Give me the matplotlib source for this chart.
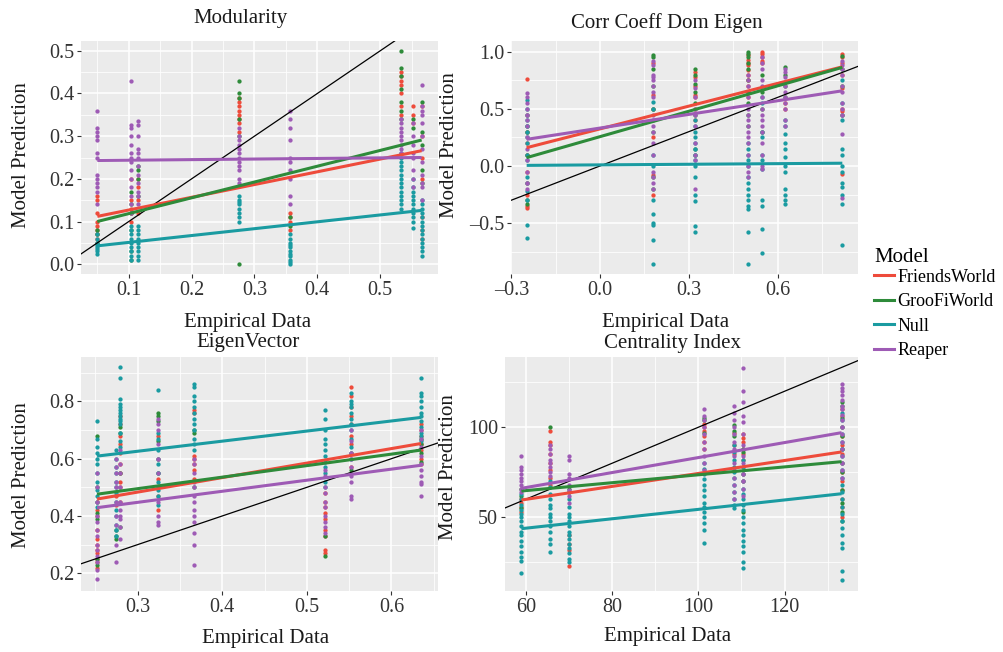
import numpy as np
import matplotlib
matplotlib.use('Agg')
import matplotlib.pyplot as plt
from matplotlib.lines import Line2D

plt.rcParams['font.family'] = ['Liberation Serif', 'DejaVu Serif']

models = ['FriendsWorld', 'GrooFiWorld', 'Null', 'Reaper']
colors = ['#ee4b3b', '#2e8b3a', '#1a9ba1', '#9e5bb5']

# ---------------- Modularity ----------------
mod_x = [0.050, 0.104, 0.114, 0.275, 0.357, 0.533, 0.552, 0.566]
mod_friends = [[0.16, 0.15, 0.12, 0.10, 0.09, 0.08, 0.07, 0.06],
               [0.20, 0.15, 0.13, 0.12, 0.10],
               [0.20, 0.18, 0.15, 0.12],
               [0.39, 0.38, 0.37, 0.36, 0.35, 0.34, 0.33, 0.31],
               [0.12, 0.11, 0.10, 0.08],
               [0.45, 0.44, 0.43, 0.42, 0.40, 0.37, 0.35],
               [0.37, 0.35, 0.33],
               [0.37, 0.30, 0.25, 0.20, 0.11, 0.08, 0.06]]
mod_groofi = [[0.08, 0.07, 0.05],
              [0.17, 0.14, 0.12, 0.08, 0.03, 0.01],
              [0.23, 0.22, 0.20, 0.16],
              [0.43, 0.40, 0.39, 0.34, 0.30, 0.0],
              [0.11, 0.09],
              [0.50, 0.46, 0.44, 0.41, 0.38, 0.36, 0.34],
              [0.34, 0.32],
              [0.38, 0.31, 0.28, 0.22, 0.19]]
mod_null = [[0.07, 0.06, 0.05, 0.045, 0.04, 0.035, 0.03, 0.025],
            [0.09, 0.08, 0.07, 0.06, 0.05, 0.04, 0.03, 0.02, 0.01],
            [0.09, 0.08, 0.07, 0.06, 0.05, 0.04, 0.03, 0.02, 0.01],
            [0.16, 0.15, 0.145, 0.14, 0.13, 0.12, 0.11, 0.10],
            [0.07, 0.06, 0.05, 0.045, 0.04, 0.03, 0.025, 0.02, 0.01, 0.005, 0.0],
            [0.26, 0.25, 0.24, 0.23, 0.22, 0.21, 0.20, 0.19, 0.18, 0.17, 0.16, 0.15, 0.14, 0.13],
            [0.20, 0.18, 0.17, 0.16, 0.15, 0.14, 0.13, 0.12, 0.11, 0.10, 0.085],
            [0.15, 0.14, 0.13, 0.12, 0.11, 0.10, 0.09, 0.08, 0.07, 0.06, 0.05, 0.04, 0.03, 0.02]]
mod_reaper = [[0.36, 0.32, 0.31, 0.30, 0.29, 0.26, 0.25, 0.21, 0.20, 0.19, 0.18, 0.17, 0.14],
              [0.43, 0.325, 0.32, 0.30, 0.28, 0.26, 0.25, 0.24, 0.22, 0.20, 0.18, 0.16, 0.14, 0.12],
              [0.335, 0.325, 0.30, 0.27, 0.26, 0.25, 0.23, 0.21, 0.19, 0.17, 0.16, 0.14],
              [0.32, 0.30, 0.29, 0.28, 0.27, 0.26, 0.25, 0.24, 0.23, 0.22, 0.20, 0.19],
              [0.36, 0.34, 0.32, 0.29, 0.25, 0.24, 0.22, 0.20, 0.16, 0.14],
              [0.34, 0.33, 0.32, 0.31, 0.30, 0.29, 0.28, 0.27, 0.26],
              [0.33, 0.30, 0.28, 0.26, 0.25, 0.22, 0.20, 0.18],
              [0.42, 0.37, 0.36, 0.35, 0.33, 0.30, 0.27, 0.24, 0.21, 0.19, 0.18, 0.15]]
mod_fit_start = [0.112, 0.100, 0.043, 0.243]
mod_fit_end = [0.266, 0.291, 0.126, 0.250]

# ---------------- Corr Coeff Dom Eigen ----------------
cc_x = [-0.248, 0.178, 0.322, 0.500, 0.548, 0.625, 0.819]
cc_friends = [[0.76, 0.45, 0.30, 0.20, 0.10, -0.05, -0.15, -0.25, -0.35, -0.37],
              [0.90, 0.62, 0.50, 0.25, -0.08, -0.25],
              [0.82, 0.78, 0.70, 0.62, 0.60, 0.50, 0.40],
              [0.97, 0.93, 0.90, 0.88, 0.84, 0.80, 0.75, 0.70, 0.65, 0.60],
              [1.0, 0.98, 0.95, 0.92, 0.90],
              [0.55, 0.50],
              [0.98, 0.95, 0.90, 0.80, 0.68, 0.50, 0.48, 0.45, -0.07]]
cc_groofi = [[0.35, 0.30, 0.10, -0.30, -0.33],
             [0.97, 0.95, 0.85, 0.70, 0.50, 0.30, -0.10, -0.20],
             [0.85, 0.80, 0.72, 0.65, 0.55, 0.45, 0.15, 0.10],
             [1.0, 0.98, 0.95, 0.90, 0.85, 0.75, 0.65, 0.55, 0.45, 0.35],
             [0.80, 0.65, 0.50, 0.30],
             [0.87, 0.80, 0.70, 0.60],
             [0.96, 0.85, 0.70]]
cc_null = [[0.58, 0.50, 0.45, 0.40, 0.35, 0.30, 0.25, 0.20, 0.10, 0.05, -0.10, -0.15, -0.22, -0.30, -0.52, -0.63],
           [0.56, 0.50, 0.10, 0.0, -0.30, -0.42, -0.50, -0.52, -0.65, -0.86],
           [0.40, 0.35, 0.30, 0.25, 0.20, 0.15, 0.10, 0.05, 0.0, -0.10, -0.25, -0.31, -0.53, -0.58],
           [0.20, 0.15, 0.10, 0.05, 0.0, -0.10, -0.15, -0.20, -0.25, -0.30, -0.35, -0.38, -0.58, -0.86],
           [0.60, 0.55, 0.30, 0.25, 0.10, 0.05, -0.03, -0.30, -0.35, -0.55, -0.76],
           [0.40, 0.35, 0.28, 0.20, 0.15, 0.08, 0.0, -0.05, -0.20, -0.25, -0.30, -0.33],
           [0.75, 0.55, 0.45, 0.40, 0.15, 0.10, 0.0, -0.05, -0.15, -0.18, -0.25, -0.33, -0.69]]
cc_reaper = [[0.64, 0.60, 0.55, 0.50, 0.45, 0.40, 0.35, 0.25, 0.15, 0.05, -0.05, -0.15, -0.20],
             [0.92, 0.88, 0.80, 0.78, 0.75, 0.70, 0.65, 0.60, 0.45, 0.40, 0.35, 0.30, 0.20, 0.10, -0.05, -0.10, -0.15, -0.20],
             [0.75, 0.68, 0.60, 0.50, 0.45, 0.35, 0.20, 0.10, 0.05, -0.20],
             [0.80, 0.75, 0.70, 0.60, 0.50, 0.45, 0.40, 0.35, 0.30, 0.25, 0.20, 0.10, 0.0, -0.05, -0.10],
             [0.95, 0.90, 0.85, 0.75, 0.70, 0.60, 0.50, 0.45, 0.40, 0.35, 0.30, 0.20, 0.10, 0.0, -0.03],
             [0.85, 0.82, 0.78, 0.70, 0.65, 0.60, 0.55, 0.50, 0.40, 0.35],
             [0.92, 0.88, 0.85, 0.80, 0.70, 0.65, 0.55, 0.50, 0.45, 0.28, -0.28]]
cc_fit_start = [0.160, 0.073, 0.005, 0.233]
cc_fit_end = [0.868, 0.863, 0.024, 0.658]

# ---------------- EigenVector ----------------
ev_x = [0.252, 0.274, 0.279, 0.324, 0.367, 0.522, 0.552, 0.635]
ev_friends = [[0.45, 0.42, 0.40, 0.35, 0.32, 0.30, 0.28, 0.27, 0.25, 0.24, 0.22],
              [0.47, 0.44],
              [0.75, 0.72, 0.68, 0.65, 0.62, 0.58, 0.55, 0.52, 0.50, 0.45],
              [0.68, 0.60, 0.53, 0.47, 0.42],
              [0.77, 0.76, 0.61, 0.60, 0.58, 0.56, 0.53],
              [0.48, 0.45, 0.43, 0.41, 0.39, 0.35, 0.33, 0.28, 0.27],
              [0.85, 0.82, 0.78, 0.75, 0.72, 0.68, 0.65, 0.62, 0.57],
              [0.72, 0.70, 0.68, 0.65, 0.63, 0.60, 0.58]]
ev_groofi = [[0.68, 0.50, 0.41, 0.39, 0.25, 0.23],
             [0.35, 0.33, 0.32],
             [0.71, 0.69, 0.55, 0.36],
             [0.76, 0.75, 0.73, 0.66, 0.55],
             [0.70, 0.69, 0.50],
             [0.33, 0.26],
             [0.56],
             [0.67, 0.65, 0.62, 0.59]]
ev_null = [[0.73, 0.67, 0.64, 0.62, 0.60, 0.58, 0.55, 0.52, 0.49, 0.47, 0.45, 0.43],
           [0.63, 0.60, 0.57, 0.55, 0.52, 0.50, 0.48, 0.45, 0.42, 0.40, 0.37, 0.35, 0.33],
           [0.92, 0.88, 0.81, 0.79, 0.78, 0.77, 0.76, 0.75, 0.74, 0.73, 0.72, 0.69, 0.66, 0.64],
           [0.84, 0.69, 0.67, 0.63, 0.60, 0.58, 0.55, 0.52, 0.49, 0.47, 0.44],
           [0.86, 0.85, 0.82, 0.80, 0.78, 0.76, 0.74, 0.72, 0.70, 0.67, 0.65, 0.63],
           [0.77, 0.74, 0.70, 0.67, 0.65, 0.63, 0.61, 0.59, 0.57, 0.55, 0.52, 0.50],
           [0.83, 0.80, 0.79, 0.78, 0.76, 0.74, 0.72, 0.70, 0.67, 0.64, 0.62, 0.60],
           [0.88, 0.83, 0.82, 0.80, 0.78, 0.76, 0.75, 0.73, 0.71, 0.69, 0.68, 0.66]]
ev_reaper = [[0.55, 0.50, 0.45, 0.40, 0.38, 0.35, 0.33, 0.30, 0.28, 0.26, 0.24, 0.21, 0.18],
             [0.60, 0.57, 0.55, 0.52, 0.50, 0.45, 0.40, 0.37, 0.30, 0.24],
             [0.63, 0.58, 0.55, 0.50, 0.45, 0.42, 0.40, 0.39, 0.36, 0.32],
             [0.74, 0.72, 0.70, 0.65, 0.60, 0.55, 0.50, 0.45, 0.40, 0.38, 0.37],
             [0.60, 0.58, 0.55, 0.52, 0.50, 0.47, 0.45, 0.42, 0.40, 0.38, 0.34, 0.30, 0.23],
             [0.56, 0.54, 0.50, 0.48, 0.45, 0.43, 0.40, 0.38, 0.36, 0.34],
             [0.70, 0.66, 0.62, 0.60, 0.57, 0.54, 0.52, 0.47, 0.46],
             [0.70, 0.67, 0.64, 0.61, 0.58, 0.56, 0.54, 0.52, 0.51, 0.47]]
ev_fit_start = [0.459, 0.476, 0.609, 0.429]
ev_fit_end = [0.653, 0.630, 0.744, 0.577]

# ---------------- Centrality Index ----------------
ci_x = [59.0, 65.6, 70.1, 101.3, 108.3, 110.3, 133.2]
ci_friends = [[60, 58, 56, 53],
              [98, 92, 90, 85, 80, 76, 72, 68],
              [40, 35, 32, 23],
              [102, 100, 98, 95, 92, 88],
              [97, 90, 85],
              [96, 94, 92, 88, 85, 82, 78, 74, 70],
              [110, 106, 100, 95, 90, 85, 80, 75, 70, 65, 60, 56, 50]]
ci_groofi = [[66, 62, 55],
             [100],
             [66, 64],
             [105, 104, 97],
             [101, 98, 95],
             [88, 86, 53],
             [114, 112, 105, 95, 88, 75, 65, 58, 53, 48]]
ci_null = [[63, 60, 57, 54, 52, 50, 48, 45, 42, 40, 37, 34, 31, 28, 26, 19],
           [70, 67, 63, 60, 57, 55, 52, 50, 48, 45, 42, 38, 35, 31],
           [64, 60, 56, 52, 50, 48, 45, 42, 40, 38, 35, 33, 30, 27, 25],
           [80, 77, 74, 71, 68, 65, 62, 58, 56, 53, 50, 47, 43, 36],
           [90, 86, 82, 78, 75, 72, 68, 64, 60, 57, 55],
           [82, 78, 74, 70, 66, 63, 60, 57, 54, 50, 47, 43, 40, 37, 34, 31, 25, 22],
           [108, 104, 100, 96, 92, 88, 84, 80, 76, 72, 68, 64, 60, 56, 52, 48, 44, 40, 36, 33, 20, 15]]
ci_reaper = [[84, 78, 76, 74, 72, 70, 68, 66, 64],
             [90, 88, 85, 82, 80, 78, 75, 73],
             [84, 82, 74, 72, 68, 65, 62, 58],
             [110, 106, 104, 100, 96, 92, 88, 84, 80, 76],
             [112, 108, 104, 100, 96, 92, 88, 84, 80, 76, 72, 68, 64, 60],
             [133, 120, 114, 106, 103, 96, 90, 84, 80, 74, 70, 66, 62],
             [124, 122, 120, 118, 115, 112, 110, 107, 104, 100, 96, 92, 88, 84, 80, 76, 72]]
ci_fit_start = [59.6, 64.6, 43.7, 66.1]
ci_fit_end = [86.3, 80.9, 63.1, 97.0]


W, H = 1004, 652

def px_rect(l, t, r, b):
	return [l / W, 1 - b / H, (r - l) / W, (b - t) / H]


def draw_panel(ax, xs, groups, fit_start, fit_end, xlim, ylim, xmaj, xmin, ymaj, ymin, xfmt, yfmt):
	ax.set_facecolor('#ebebeb')
	for s in ax.spines.values():
		s.set_visible(False)
	ax.set_xlim(xlim)
	ax.set_ylim(ylim)
	ax.set_xticks(xmaj)
	ax.set_xticks(xmin, minor=True)
	ax.set_yticks(ymaj)
	ax.set_yticks(ymin, minor=True)
	ax.set_xticklabels([xfmt(v) for v in xmaj])
	ax.set_yticklabels([yfmt(v) for v in ymaj])
	ax.grid(which='major', color='white', lw=1.1)
	ax.grid(which='minor', color='white', lw=0.55)
	ax.set_axisbelow(True)
	ax.tick_params(which='major', length=3, width=0.8, color='#333333', labelsize=14.5, labelcolor='#333333', pad=2)
	ax.tick_params(which='minor', length=0)

	for m in range(4):
		for j, x in enumerate(xs):
			ys = groups[m][j]
			ax.scatter([x] * len(ys), ys, s=9.5, color=colors[m], lw=0, zorder=3)

	# identity line
	ax.axline((0, 0), slope=1, color='black', lw=0.9, zorder=4)

	for m in range(4):
		ax.plot([xs[0], xs[-1]], [fit_start[m], fit_end[m]], color=colors[m], lw=2.2, zorder=5, solid_capstyle='butt')


def fmt1(v):
	return ('%.1f' % v).replace('-', '\u2013')


def fmt0(v):
	return '%d' % v


fig = plt.figure(figsize=(W / 100, H / 100), dpi=100)

ax1 = fig.add_axes(px_rect(81, 41, 438, 274))
draw_panel(ax1, mod_x, [mod_friends, mod_groofi, mod_null, mod_reaper], mod_fit_start, mod_fit_end,
		   (0.024, 0.592), (-0.023, 0.523), [0.1, 0.2, 0.3, 0.4, 0.5], [0.05, 0.15, 0.25, 0.35, 0.45, 0.55],
		   [0.0, 0.1, 0.2, 0.3, 0.4, 0.5], [0.05, 0.15, 0.25, 0.35, 0.45], fmt1, fmt1)

ax2 = fig.add_axes(px_rect(511, 41, 858, 274))
draw_panel(ax2, cc_x, [cc_friends, cc_groofi, cc_null, cc_reaper], cc_fit_start, cc_fit_end,
		   (-0.301, 0.872), (-0.946, 1.094), [-0.3, 0.0, 0.3, 0.6], [-0.15, 0.15, 0.45, 0.75],
		   [-0.5, 0.0, 0.5, 1.0], [-0.75, -0.25, 0.25, 0.75], fmt1, fmt1)

ax3 = fig.add_axes(px_rect(81, 357, 438, 591))
draw_panel(ax3, ev_x, [ev_friends, ev_groofi, ev_null, ev_reaper], ev_fit_start, ev_fit_end,
		   (0.233, 0.655), (0.138, 0.955), [0.3, 0.4, 0.5, 0.6], [0.25, 0.35, 0.45, 0.55, 0.65],
		   [0.2, 0.4, 0.6, 0.8], [0.3, 0.5, 0.7, 0.9], fmt1, fmt1)

ax4 = fig.add_axes(px_rect(505, 357, 858, 591))
draw_panel(ax4, ci_x, [ci_friends, ci_groofi, ci_null, ci_reaper], ci_fit_start, ci_fit_end,
		   (55.2, 137.0), (9.1, 139.0), [60, 80, 100, 120], [70, 90, 110, 130],
		   [50, 100], [25, 75, 125], fmt0, fmt0)

#titles and axis labels
def ftext(x, y, s, **kw):
	fig.text(x / W, 1 - y / H, s, ha='center', va='center', fontsize=15, color='#1a1a1a', **kw)

ftext(241, 18, 'Modularity')
ftext(667, 23, 'Corr Coeff Dom Eigen')
ftext(248, 343, 'EigenVector')
ftext(673, 344, 'Centrality Index')

ftext(248, 322, 'Empirical Data')
ftext(666, 322, 'Empirical Data')
ftext(266, 638, 'Empirical Data')
ftext(668, 636, 'Empirical Data')

ftext(22, 155, 'Model Prediction', rotation=90)
ftext(450, 145, 'Model Prediction', rotation=90)
ftext(22, 475, 'Model Prediction', rotation=90)
ftext(449, 467, 'Model Prediction', rotation=90)

#legend
handles = [Line2D([0], [0], color=c, lw=2.2) for c in colors]
leg = fig.legend(handles, models, loc='upper left', bbox_to_anchor=(867 / W, 1 - 241 / H),
				 title='Model', frameon=False, fontsize=13, title_fontsize=15,
				 handlelength=1.1, handletextpad=0.2, labelspacing=0.42, borderaxespad=0)
leg._legend_box.align = 'left'
leg._legend_box.sep = 1

fig.savefig('out.png', dpi=100)
